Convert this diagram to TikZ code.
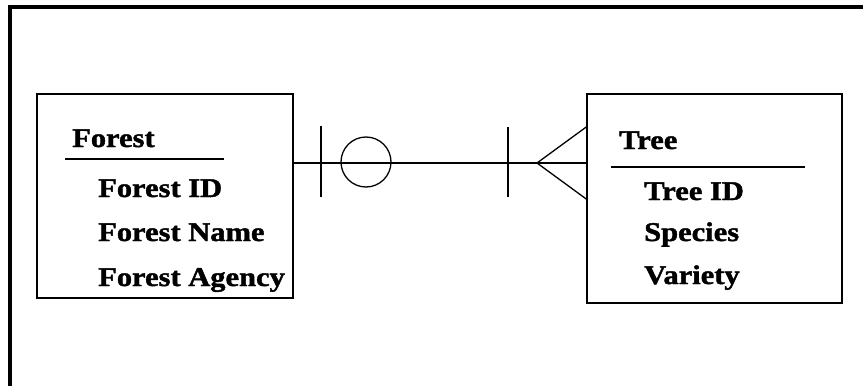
\documentclass[tikz,border=0pt]{standalone}
\usepackage{fontspec}
\setmainfont{Liberation Serif}[FakeStretch=1.13,BoldFeatures={FakeBold=1.5}]
\begin{document}
\begin{tikzpicture}[x=1pt,y=-1pt,
  entity/.style={draw,line width=1.5pt,inner sep=0pt,minimum width=#1},
  attr/.style={anchor=base west,inner sep=0pt,font=\fontsize{27}{30}\selectfont\bfseries},
  rel/.style={line width=1.6pt},
  frame/.style={line width=4pt}]
\useasboundingbox (0,0) rectangle (863,386);
\draw[frame] (10,386) -- (10,7) -- (863,7);
% entities
\node[entity=256pt,minimum height=204pt] (forest) at (165,196) {};
\node[entity=255pt,minimum height=209pt] (tree) at (714.5,198.5) {};
% Forest texts
\node[attr] (ft) at (72,147) {Forest};
\node[attr] (f1) at (98,197) {Forest ID};
\node[attr] (f2) at (98,241) {Forest Name};
\node[attr] (f3) at (98,286) {Forest Agency};
\draw[line width=1.6pt] (65,159) -- (224,159);
% Tree texts
\node[attr] (tt) at (619,149) {Tree};
\node[attr] (t1) at (644,200) {Tree ID};
\node[attr] (t2) at (644,241) {Species};
\node[attr] (t3) at (644,284) {Variety};
\draw[line width=1.6pt] (611,167) -- (805,167);
% relationship
\coordinate (ry) at (0,163);
\draw[rel] (forest.east |- ry) -- (tree.west |- ry);
\draw[rel] (321,126) -- (321,197);
\draw[rel] (508,127) -- (508,197);
\draw[line width=1.3pt] (366,162) circle (25);
\coordinate (apex) at (537,163);
\draw[line width=1.3pt] (tree.west |- 0,127) -- (apex) -- (tree.west |- 0,199);
\end{tikzpicture}
\end{document}
